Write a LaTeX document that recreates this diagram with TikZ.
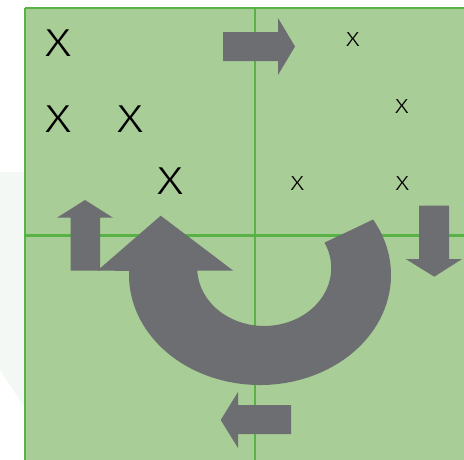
\documentclass[tikz,border=0pt]{standalone}
\usepackage{fontspec}
\setmainfont{Carlito}
\newfontfamily\markfont{Fira Sans Light}
\definecolor{field}{RGB}{169,205,150}
\definecolor{rulegreen}{RGB}{88,178,70}
\definecolor{slate}{RGB}{109,110,114}
\definecolor{haze}{RGB}{244,248,244}
\newcommand{\widemark}{\scalebox{1.3}[1]{X}}
\begin{document}
\begin{tikzpicture}[x=1pt,y=-1pt,
  arrowfill/.style={fill=slate,draw=none},
  bigx/.style={font=\markfont\fontsize{39}{39}\selectfont, inner sep=0pt},
  smallx/.style={font=\markfont\fontsize{20.3}{20.3}\selectfont, inner sep=0pt},
  divider/.style={draw=rulegreen,line width=2.3pt}]
\useasboundingbox (0,0) rectangle (464,459);
% faint backdrop shape at the left margin
\fill[haze] (0,172) -- (25,172) -- (25,408) -- (0,370) -- cycle;
% field with border and quadrant dividers
\fill[field] (25,8) rectangle (470,465);
\draw[divider] (25,8) -- (470,8);
\draw[divider] (25,8) -- (25,465);
\draw[divider] (254.7,8) -- (254.7,465);
\draw[divider] (25,235.5) -- (470,235.5);
% straight block arrows
\fill[arrowfill] (223,32) -- (278,32) -- (278,18) -- (295,46.5) -- (278,75) -- (278,61) -- (223,61) -- cycle;
\fill[arrowfill] (70.7,270.7) -- (70.7,217.7) -- (57,217.7) -- (85,200) -- (113,217.7) -- (100,217.7) -- (100,270.7) -- cycle;
\fill[arrowfill] (419,205.7) -- (449,205.7) -- (449,259) -- (462,259) -- (434.3,276.7) -- (405.7,259) -- (419,259) -- cycle;
\fill[arrowfill] (291,405) -- (238,405) -- (238,392) -- (220.7,420) -- (238,448) -- (238,434) -- (291,434) -- cycle;
% curved U-turn arrow
\fill[arrowfill] (260,275) ++(-30.3:131 and 110)
  arc[start angle=-30.3,end angle=182.2,x radius=131,y radius=110]
  -- (97.3,270.7) -- (160.7,215.7) -- (233.3,270.7) -- (197.3,270.7)
  arc[start angle=177.3,end angle=-25.9,x radius=67,y radius=58] -- cycle;
% marks
\node[bigx] (xa) at (58.5,43.5) {\widemark};
\node[bigx] (xb) at (58.5,119) {\widemark};
\node[bigx] (xc) at (131,119) {\widemark};
\node[bigx] (xd) at (171,181.5) {\widemark};
\node[smallx] (xe) at (352.8,39.5) {\widemark};
\node[smallx] (xf) at (401.8,106.7) {\widemark};
\node[smallx] (xg) at (297.5,184) {\widemark};
\node[smallx] (xh) at (402.5,184) {\widemark};
\end{tikzpicture}
\end{document}
